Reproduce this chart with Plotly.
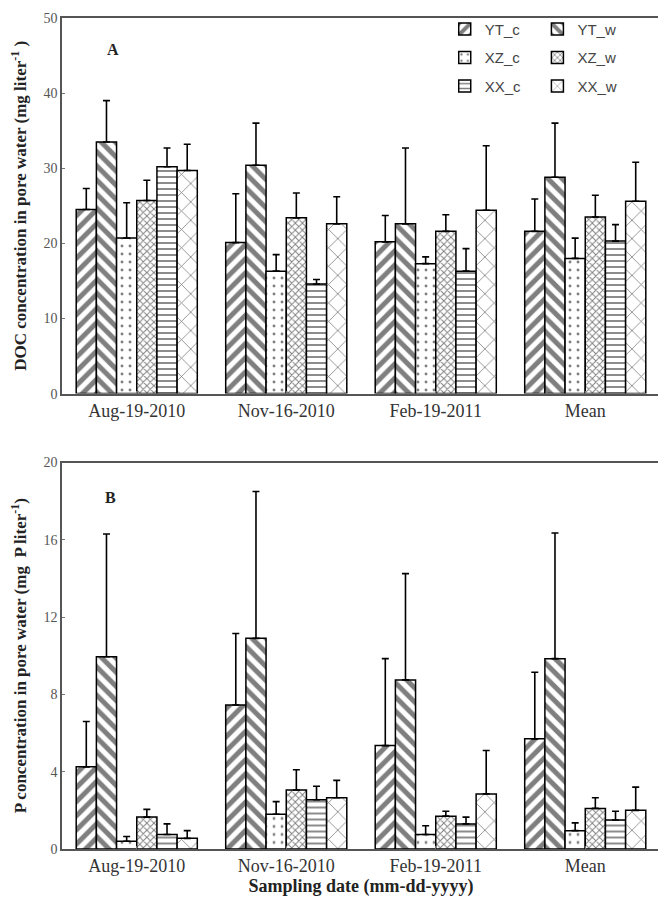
import plotly.graph_objects as go
from plotly.subplots import make_subplots

dates = ["Aug-19-2010", "Nov-16-2010", "Feb-19-2011", "Mean"]
series = ["YT_c", "YT_w", "XZ_c", "XZ_w", "XX_c", "XX_w"]

# panel A: DOC (mg/l), bar value and top of error bar
doc_mean = {
    "YT_c": [24.5, 20.1, 20.2, 21.6],
    "YT_w": [33.5, 30.4, 22.6, 28.8],
    "XZ_c": [20.7, 16.3, 17.3, 18.0],
    "XZ_w": [25.7, 23.4, 21.6, 23.5],
    "XX_c": [30.2, 14.6, 16.3, 20.3],
    "XX_w": [29.7, 22.6, 24.4, 25.6],
}
doc_top = {
    "YT_c": [27.3, 26.6, 23.7, 25.9],
    "YT_w": [39.0, 36.0, 32.7, 36.0],
    "XZ_c": [25.4, 18.5, 18.2, 20.7],
    "XZ_w": [28.4, 26.7, 23.8, 26.4],
    "XX_c": [32.7, 15.2, 19.3, 22.5],
    "XX_w": [33.2, 26.2, 33.0, 30.8],
}

# panel B: P (mg P/l)
p_mean = {
    "YT_c": [4.25, 7.45, 5.35, 5.7],
    "YT_w": [9.95, 10.9, 8.75, 9.85],
    "XZ_c": [0.4, 1.8, 0.75, 0.95],
    "XZ_w": [1.65, 3.05, 1.7, 2.1],
    "XX_c": [0.75, 2.55, 1.3, 1.5],
    "XX_w": [0.55, 2.65, 2.85, 2.0],
}
p_top = {
    "YT_c": [6.6, 11.15, 9.85, 9.15],
    "YT_w": [16.3, 18.5, 14.25, 16.35],
    "XZ_c": [0.65, 2.45, 1.2, 1.35],
    "XZ_w": [2.05, 4.1, 1.95, 2.65],
    "XX_c": [1.3, 3.25, 1.65, 1.95],
    "XX_w": [0.95, 3.55, 5.1, 3.2],
}

PATTERNS = {
    "YT_c": dict(shape="/", size=10, solidity=0.5),
    "YT_w": dict(shape="\\", size=10, solidity=0.5),
    "XZ_c": dict(shape=".", size=8, solidity=0.1),
    "XZ_w": dict(shape="x", size=5, solidity=0.35),
    "XX_c": dict(shape="-", size=6, solidity=0.3),
    "XX_w": dict(shape="x", size=13, solidity=0.12),
}

SERIF = "Liberation Serif, Times New Roman, serif"

fig = make_subplots(rows=2, cols=1)

for row, means, tops in [(1, doc_mean, doc_top), (2, p_mean, p_top)]:
    for name in series:
        err = [t - m for t, m in zip(tops[name], means[name])]
        fig.add_trace(
            go.Bar(
                x=dates,
                y=means[name],
                name=name,
                legendgroup=name,
                showlegend=(row == 1),
                legend="legend" if name.endswith("_c") else "legend2",
                marker=dict(
                    color="white",
                    line=dict(color="black", width=1.5),
                    pattern=dict(fgcolor="black", bgcolor="white", fillmode="overlay",
                                 **PATTERNS[name]),
                ),
                error_y=dict(type="data", symmetric=False, array=err,
                             arrayminus=[0] * len(err), color="black",
                             thickness=1.6, width=3.5),
            ),
            row=row, col=1,
        )

axis_common = dict(
    showline=True, linecolor="#555", linewidth=1.5, mirror=True, automargin=False,
    ticks="inside", ticklen=3, tickcolor="#777", showgrid=False, zeroline=False,
)
fig.update_xaxes(**axis_common, tickfont=dict(family=SERIF, size=18, color="#333"))
fig.update_yaxes(**axis_common, ticklabeloverflow="allow",
                 tickfont=dict(family=SERIF, size=14, color="#555"))

fig.update_yaxes(range=[0, 50], dtick=10, domain=[0.548, 1.0], row=1, col=1,
                 title=dict(text="<b>DOC concentration in pore water (mg liter<sup>-1</sup> )</b>",
                            font=dict(family=SERIF, size=17, color="#222"), standoff=26))
fig.update_yaxes(range=[0, 20], dtick=4, domain=[0.0, 0.4651], row=2, col=1,
                 title=dict(text="<b>P concentration in pore water (mg  P liter<sup>-1</sup>)</b>",
                            font=dict(family=SERIF, size=17, color="#222"), standoff=26))
fig.update_xaxes(row=2, col=1,
                 title=dict(text="<b>Sampling date (mm-dd-yyyy)</b>",
                            font=dict(family=SERIF, size=18, color="#222"), standoff=2))

fig.add_annotation(text="<b>A</b>", x=0.072, y=0.975, xref="paper", yref="paper",
                   showarrow=False, font=dict(family=SERIF, size=16, color="#222"))
fig.add_annotation(text="<b>B</b>", x=0.069, y=0.423, xref="paper", yref="paper",
                   showarrow=False, font=dict(family=SERIF, size=16, color="#222"))

legend_style = dict(
    yanchor="top", y=1.005, xanchor="left", orientation="v",
    font=dict(family="Liberation Sans, Arial, sans-serif", size=15, color="#444"),
    bgcolor="rgba(0,0,0,0)", tracegroupgap=6, itemwidth=30,
)

# the page body adds an 8px offset, so the figure is 8px smaller each way
fig.update_layout(
    width=658, height=898,
    paper_bgcolor="white", plot_bgcolor="white",
    margin=dict(l=54, r=6, t=9, b=57),
    barmode="group", bargap=0.19, bargroupgap=0,
    legend=dict(**legend_style, x=0.64),
    legend2=dict(**legend_style, x=0.795),
)

fig.write_html("out.html")
